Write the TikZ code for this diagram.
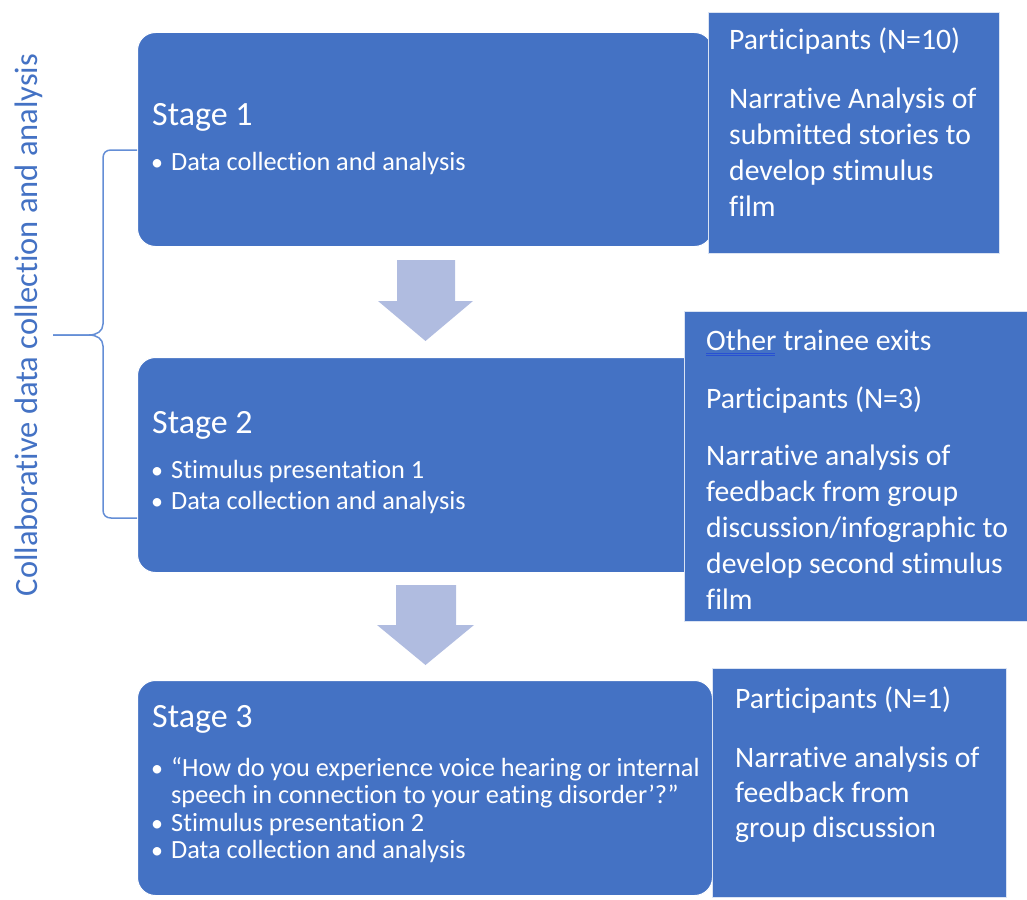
\documentclass[tikz,border=0pt]{standalone}
\usepackage{fontspec}
\setmainfont{Carlito}[Ligatures=NoCommon]
\definecolor{boxblue}{RGB}{68,114,196}
\definecolor{arrowblue}{RGB}{176,188,224}
\definecolor{bracecol}{RGB}{100,142,214}
\definecolor{spellblue}{RGB}{40,80,210}
\begin{document}
\begin{tikzpicture}[x=1pt,y=-1pt,
  stagebox/.style={fill=boxblue,draw=white,line width=1pt,rounded corners=18pt,
    anchor=north west,inner sep=0pt},
  sidebox/.style={fill=boxblue,draw=white!80!boxblue,line width=1pt,
    anchor=north west,inner sep=0pt},
  stagetitle/.style={text=white,font=\fontsize{34}{40}\selectfont,anchor=base west,inner sep=0pt},
  bulletdot/.style={text=white,font=\fontsize{24}{30}\selectfont,anchor=base,inner sep=0pt},
  bullettext/.style={text=white,font=\fontsize{26.3}{30}\selectfont,anchor=base west,inner sep=0pt},
  sidetext/.style={text=white,font=\fontsize{29.7}{36}\selectfont,anchor=base west,inner sep=0pt},
  flowarrow/.style={fill=arrowblue},
  bracket/.style={draw=bracecol,line width=1.5pt,line join=round}]
\useasboundingbox (0,0) rectangle (1027,899);

% stage boxes
\node[stagebox,minimum width=575pt,minimum height=214pt] (s1) at (137,32) {};
\node[stagebox,minimum width=575pt,minimum height=215pt] (s2) at (137,357) {};
\node[stagebox,minimum width=575pt,minimum height=215pt] (s3) at (137,680) {};

% side boxes
\node[sidebox,minimum width=291pt,minimum height=241pt] (r1) at (708,12) {};
\node[sidebox,minimum width=345pt,minimum height=310pt] (r2) at (684,311) {};
\node[sidebox,minimum width=294pt,minimum height=229pt] (r3) at (712,668) {};

% block arrows between the stages
\fill[flowarrow] (397,260) -- (455,260) -- (455,301) -- (473,301) -- (425.5,341)
  -- (378,301) -- (397,301) -- cycle;
\fill[flowarrow] (396,585) -- (456,585) -- (456,625) -- (474,625) -- (425.5,665)
  -- (377,625) -- (396,625) -- cycle;

% stage 1
\node[stagetitle] (t1) at (152,125) {Stage 1};
\node[bulletdot] (b1a) at (157,170) {•};
\node[bullettext] (l1a) at (171,170) {Data collection and analysis};

% stage 2
\node[stagetitle] (t2) at (152,433) {Stage 2};
\node[bulletdot] (b2a) at (157,478) {•};
\node[bullettext] (l2a) at (171,478) {Stimulus presentation 1};
\node[bulletdot] (b2b) at (157,509) {•};
\node[bullettext] (l2b) at (171,509) {Data collection and analysis};

% stage 3
\node[stagetitle] (t3) at (152,727) {Stage 3};
\node[bulletdot] (b3a) at (157,776) {•};
\node[bullettext] (l3a) at (171,776) {“How do you experience voice hearing or internal};
\node[bullettext] (l3b) at (171,803) {speech in connection to your eating disorder’?”};
\node[bulletdot] (b3c) at (157,831) {•};
\node[bullettext] (l3c) at (171,831) {Stimulus presentation 2};
\node[bulletdot] (b3d) at (157,858) {•};
\node[bullettext] (l3d) at (171,858) {Data collection and analysis};

% side box 1
\node[sidetext] (p1) at (729,50) {Participants (N=10)};
\node[sidetext] (n1a) at (729,108) {Narrative Analysis of};
\node[sidetext] (n1b) at (729,144) {submitted stories to};
\node[sidetext] (n1c) at (729,180) {develop stimulus};
\node[sidetext] (n1d) at (729,216) {film};

% side box 2
\node[sidetext] (o2) at (706,350) {Other trainee exits};
\draw[spellblue,line width=0.8pt] (o2.base west) ++(0,3) -- ++(69,0);
\draw[spellblue,line width=0.8pt] (o2.base west) ++(0,5.5) -- ++(69,0);
\node[sidetext] (p2) at (706,408) {Participants (N=3)};
\node[sidetext] (n2a) at (706,465) {Narrative analysis of};
\node[sidetext] (n2b) at (706,501) {feedback from group};
\node[sidetext] (n2c) at (706,537) {discussion/infographic to};
\node[sidetext] (n2d) at (706,573) {develop second stimulus};
\node[sidetext] (n2e) at (706,609) {film};

% side box 3
\node[sidetext] (p3) at (735,708) {Participants (N=1)};
\node[sidetext] (n3a) at (735,767) {Narrative analysis of};
\node[sidetext] (n3b) at (735,802) {feedback from};
\node[sidetext] (n3c) at (735,837) {group discussion};

% bracket grouping stages 1 and 2
\coordinate (btop) at (s1.west |- 0,150);
\coordinate (bbot) at (s2.west |- 0,518);
\coordinate (btip) at (53,335);
\draw[bracket] (btop) -- (111,150) .. controls (106,150) and (103,153) .. (103,158)
  -- (103,324) .. controls (103,331) and (97,335) .. (89,335) -- (btip);
\draw[bracket] (btip) -- (89,335) .. controls (97,335) and (103,339) .. (103,346)
  -- (103,510) .. controls (103,515) and (106,518) .. (111,518) -- (bbot);

% side label
\node[text=boxblue,font=\fontsize{32.5}{38}\selectfont,rotate=90,inner sep=0pt] (lab)
  at (29,325) {Collaborative data collection and analysis};
\end{tikzpicture}
\end{document}
